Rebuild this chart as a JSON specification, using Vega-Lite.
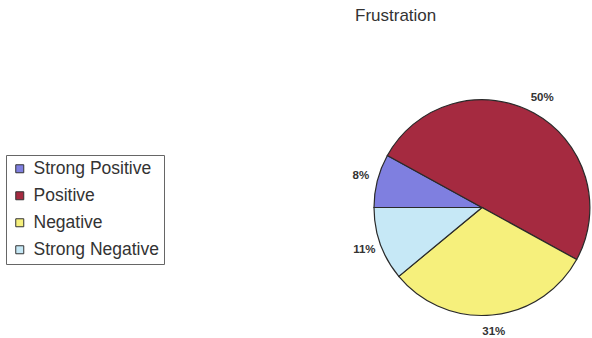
{
  "$schema": "https://vega.github.io/schema/vega-lite/v6.json",
  "autosize": {"type": "none"},
  "width": 216,
  "height": 217,
  "padding": {"left": 374, "top": 99, "right": 2, "bottom": 22},
  "background": "white",
  "title": {
    "text": "Frustration",
    "anchor": "start",
    "frame": "group",
    "dx": -19,
    "offset": 67,
    "font": "Liberation Sans",
    "fontSize": 17,
    "fontWeight": "normal",
    "color": "#333333"
  },
  "data": {
    "values": [
      {"category": "Strong Positive", "share": 8, "order": 1, "label": "8%"},
      {"category": "Positive", "share": 50, "order": 2, "label": "50%"},
      {"category": "Negative", "share": 31, "order": 3, "label": "31%"},
      {"category": "Strong Negative", "share": 11, "order": 4, "label": "11%"}
    ]
  },
  "encoding": {
    "theta": {
      "field": "share",
      "type": "quantitative",
      "stack": true,
      "scale": {"range": [4.71239, 10.99557]}
    },
    "order": {"field": "order", "type": "quantitative"}
  },
  "layer": [
    {
      "mark": {"type": "arc", "stroke": "#2a2a2a", "strokeWidth": 1.2},
      "encoding": {
        "color": {
          "field": "category",
          "type": "nominal",
          "sort": ["Strong Positive", "Positive", "Negative", "Strong Negative"],
          "scale": {
            "domain": ["Strong Positive", "Positive", "Negative", "Strong Negative"],
            "range": ["#7f7fe0", "#a52a40", "#f6f07c", "#c6e8f6"]
          },
          "legend": {
            "title": null,
            "orient": "none",
            "legendX": -368,
            "legendY": 56,
            "symbolType": "square",
            "symbolSize": 64,
            "symbolStrokeColor": "#333333",
            "symbolStrokeWidth": 1,
            "labelFont": "Liberation Sans",
            "labelFontSize": 17.5,
            "labelColor": "#333333",
            "labelOffset": 5,
            "rowPadding": 8,
            "padding": 5,
            "strokeColor": "#666666",
            "fillColor": "white"
          }
        }
      }
    },
    {
      "mark": {
        "type": "text",
        "radius": 125,
        "font": "Liberation Sans",
        "fontSize": 11.5,
        "fontWeight": "bold",
        "color": "#333333"
      },
      "encoding": {
        "text": {"field": "label", "type": "nominal"}
      }
    }
  ]
}
